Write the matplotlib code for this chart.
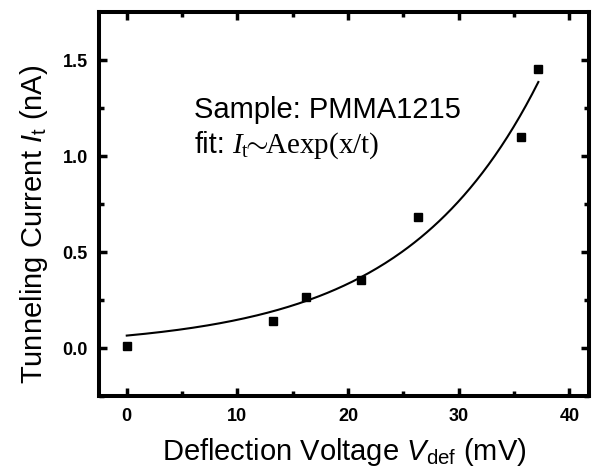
import numpy as np
import matplotlib
matplotlib.use("Agg")
import matplotlib.pyplot as plt

v_def = [0.0, 13.2, 16.2, 21.2, 26.3, 35.6, 37.2]
i_t = [0.01, 0.14, 0.265, 0.355, 0.68, 1.10, 1.45]

# fit I_t ~ A exp(x/t), parameters
fit_A = 0.064
fit_t = 12.1
fit_range = (0.0, 37.2)

x_ticks = [0, 10, 20, 30, 40]
y_ticks = [0.0, 0.5, 1.0, 1.5]

plt.rcParams['font.family'] = ['Liberation Sans', 'DejaVu Sans']
plt.rcParams['mathtext.fontset'] = 'custom'
plt.rcParams['mathtext.rm'] = 'Liberation Serif'
plt.rcParams['mathtext.it'] = 'Liberation Serif:italic'
plt.rcParams['mathtext.sf'] = 'Liberation Sans'
plt.rcParams['mathtext.cal'] = 'Liberation Sans:italic'

fig = plt.figure(figsize=(5.97, 4.77), dpi=100)
ax = fig.add_axes([0.166, 0.168, 0.821, 0.805])

xf = np.linspace(fit_range[0], fit_range[1], 200)
ax.plot(xf, fit_A * np.exp(xf / fit_t), color='black', lw=1.5)
ax.plot(v_def, i_t, 's', color='black', markersize=5.5)

ax.set_xlim(-2.5, 41.8)
ax.set_ylim(-0.25, 1.75)
ax.set_xticks(x_ticks)
ax.set_yticks(y_ticks)
ax.set_xticks([5, 15, 25, 35], minor=True)
ax.set_yticks([-0.25, 0.25, 0.75, 1.25], minor=True)
ax.set_yticklabels(['0.0', '0.5', '1.0', '1.5'])

for s in ax.spines.values():
    s.set_linewidth(2.9)
ax.tick_params(which='both', direction='in', top=True, right=True, width=2.5)
ax.tick_params(which='major', length=6, labelsize=13, pad=8)
ax.tick_params(which='minor', length=3.5)
for lab in ax.get_xticklabels() + ax.get_yticklabels():
    lab.set_fontweight('bold')

ax.set_xlabel('Deflection Voltage $\\mathcal{V}_{\\mathsf{def}}$ (mV)', fontsize=21, labelpad=8)
ax.set_ylabel('Tunneling Current $\\mathcal{I}_{\\mathsf{t}}$ (nA)', fontsize=21, labelpad=9)
ax.yaxis.label.set_y(0.45)

ax.text(0.194, 0.727, 'Sample: PMMA1215', transform=ax.transAxes, fontsize=21)
ax.text(0.194, 0.635, 'fit:', transform=ax.transAxes, fontsize=21)
ax.text(0.271, 0.635, '$\\mathit{I}_{\\mathrm{t}}\\!\\!\\sim\\!\\!\\mathrm{Aexp(x/t)}$',
        transform=ax.transAxes, fontsize=21)

fig.savefig('out.png', dpi=100)
